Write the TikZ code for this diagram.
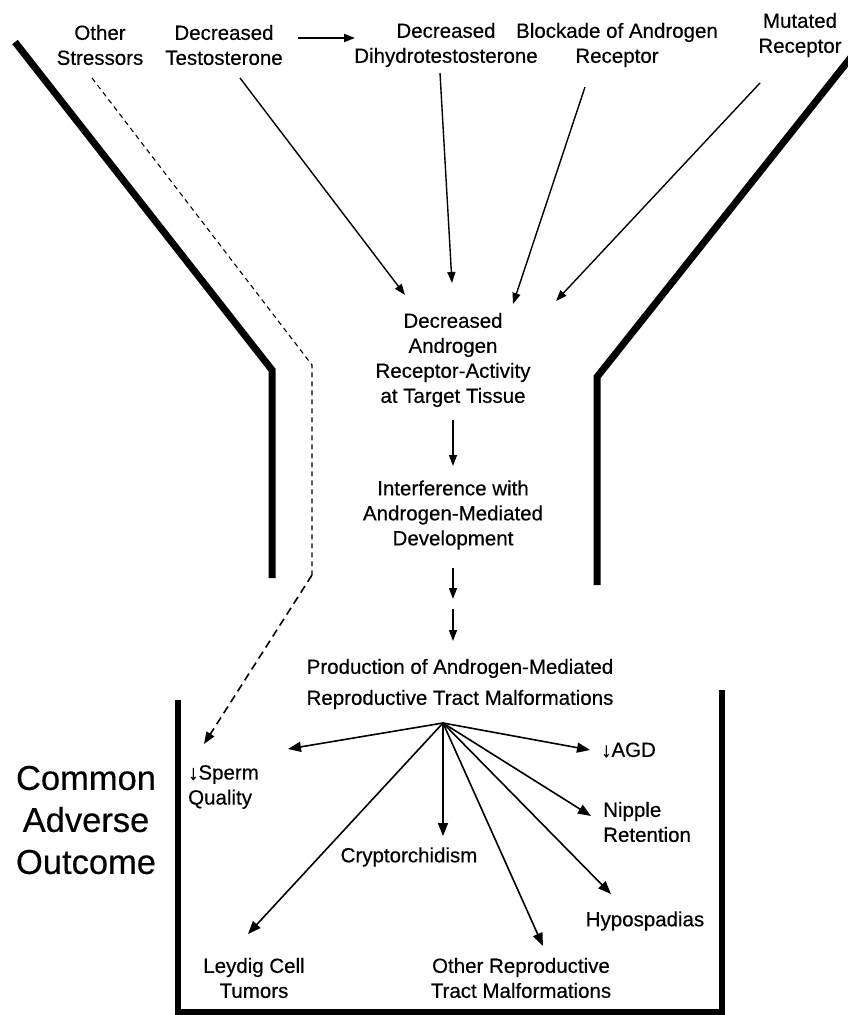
\documentclass[tikz,border=0pt]{standalone}
\usepackage{fontspec}
\setmainfont[FakeBold=0.35]{Liberation Sans}
\usetikzlibrary{arrows.meta}
\begin{document}
\begin{tikzpicture}[x=1pt,y=-1pt,
  lbl/.style={font=\fontsize{20.5}{25}\selectfont, align=center, inner sep=0pt},
  lbll/.style={font=\fontsize{20.5}{25}\selectfont, align=left, inner sep=0pt, anchor=west},
  big/.style={font=\fontsize{34.5}{42}\selectfont, align=center, inner sep=0pt},
  arr/.style={-{Triangle[length=11pt,width=8pt]}, line width=1.4pt},
  fan/.style={-{Triangle[length=13pt,width=10pt]}, line width=1.6pt},
  wall/.style={line width=7pt},
  thinDash/.style={line width=1.1pt, dash pattern=on 5pt off 4pt},
  thickDash/.style={line width=1.6pt, dash pattern=on 8pt off 5pt}]
\useasboundingbox (0,0) rectangle (848,1015);

% funnel walls
\draw[wall] (15,42) -- (272,370) -- (272,578);
\draw[wall] (852,56) -- (597,377) -- (597,585);
% bottom box
\draw[line width=6pt] (178,700) -- (178,1012) -- (722,1012) -- (722,690);

% top labels
\node[lbl] (other) at (100,45) {Other\\Stressors};
\node[lbl] (testo) at (224,45) {Decreased\\Testosterone};
\node[lbl] (dht) at (446,45) {Decreased\\Dihydrotestosterone};
\node[lbl] (block) at (617,45) {Blockade of Androgen\\Receptor};
\node[lbl] (mut) at (800,35) {Mutated\\Receptor};

\node[lbl] (ara) at (453,360) {Decreased\\Androgen\\Receptor-Activity\\at Target Tissue};
\node[lbl] (inter) at (453,515) {Interference with\\Androgen-Mediated\\Development};
\node[font=\fontsize{20.5}{31}\selectfont, align=center, inner sep=0pt] (prod) at (460,684) {Production of Androgen-Mediated\\Reproductive Tract Malformations};

\node[big] (cao) at (86,820) {Common\\Adverse\\Outcome};

\node[lbll] (sperm) at (188,787) {↓Sperm\\Quality};
\node[lbll] (agd) at (601,750) {↓AGD};
\node[lbll] (nipple) at (603,822) {Nipple\\Retention};
\node[lbl] (crypt) at (409,857) {Cryptorchidism};
\node[lbl] (hypo) at (645,921) {Hypospadias};
\node[lbl] (orep) at (521,978) {Other Reproductive\\Tract Malformations};
\node[lbl] (leydig) at (254,978) {Leydig Cell\\Tumors};

% connector end points
\coordinate (t1) at (298,38);  \coordinate (t2) at (355,38);
\coordinate (a1) at (240,78);  \coordinate (a2) at (405,295);
\coordinate (b1) at (440,73);  \coordinate (b2) at (452,283);
\coordinate (c1) at (585,87);  \coordinate (c2) at (513,304);
\coordinate (d1) at (760,83);  \coordinate (d2) at (556,301);
\coordinate (e1) at (453,420); \coordinate (e2) at (453,466);
\coordinate (f1) at (453,568); \coordinate (f2) at (453,599);
\coordinate (g1) at (453,609); \coordinate (g2) at (453,641);
\coordinate (src) at (443,723);
\coordinate (s1) at (92,78); \coordinate (s2) at (312,365); \coordinate (s3) at (312,575); \coordinate (s4) at (204,744);

\draw[-{Triangle[length=11pt,width=8pt]}, line width=2pt] (t1) -- (t2);
\draw[arr] (a1) -- (a2);
\draw[arr] (b1) -- (b2);
\draw[arr] (c1) -- (c2);
\draw[arr] (d1) -- (d2);
\draw[arr] (e1) -- (e2);
\draw[arr] (f1) -- (f2);
\draw[arr] (g1) -- (g2);

\draw[thinDash] (s1) -- (s2) -- (s3);
\draw[thickDash, -{Triangle[length=12pt,width=9pt]}] (s3) -- (s4);

% fan
\draw[fan] (src) -- (288,749);
\draw[fan] (src) -- (590,750);
\draw[fan] (src) -- (591,816);
\draw[fan] (src) -- (443,836);
\draw[fan] (src) -- (611,894);
\draw[fan] (src) -- (543,946);
\draw[fan] (src) -- (248,934);
\end{tikzpicture}
\end{document}
